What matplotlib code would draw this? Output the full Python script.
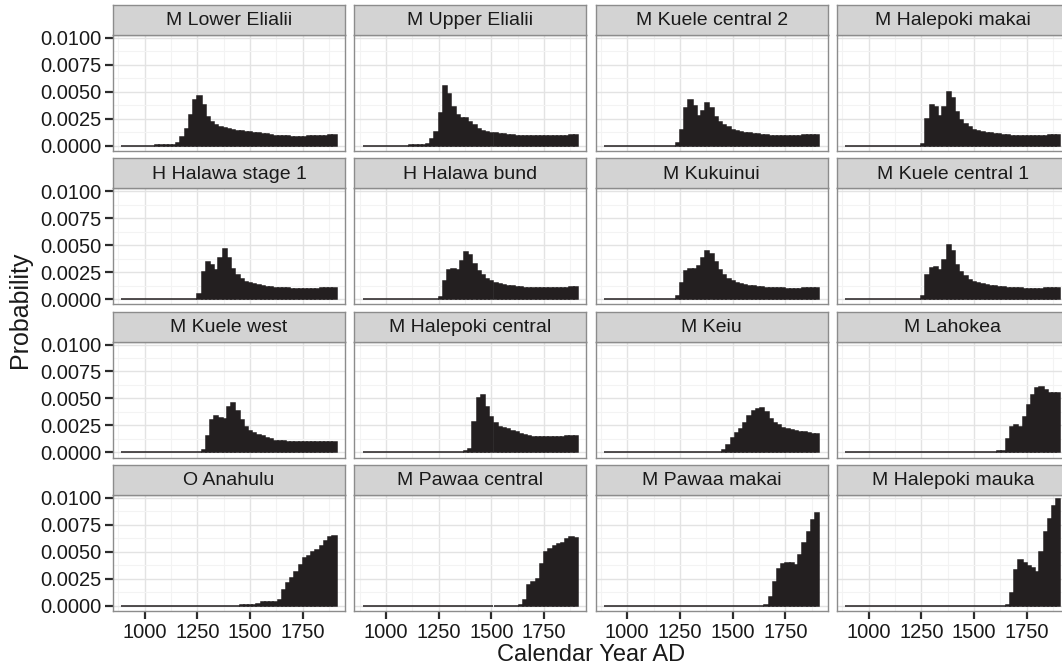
import numpy as np
import matplotlib
matplotlib.use("Agg")
import matplotlib.pyplot as plt

plt.rcParams['font.family'] = ['Liberation Sans', 'DejaVu Sans']

# calendar years (bin centres)
YEARS = list(range(900, 1901, 20))

lower_elialii = [0, 0, 0, 0, 0, 0, 0, 0, 0.00005, 0.00005, 0.00005, 0.00005, 0.0001, 0.0003, 0.0008, 0.0016,
                 0.0029, 0.0042, 0.0046, 0.0038, 0.0027, 0.0022, 0.0019, 0.0017, 0.00165, 0.0016, 0.0015, 0.0014,
                 0.00135, 0.0013, 0.00125, 0.0012, 0.00115, 0.0011, 0.00105, 0.001, 0.00095, 0.0009, 0.0009,
                 0.00088, 0.00085, 0.00085, 0.00085, 0.00085, 0.00087, 0.0009, 0.0009, 0.00092, 0.00095, 0.00097,
                 0.001]
upper_elialii = [0, 0, 0, 0, 0, 0, 0, 0, 0, 0, 0, 0.00005, 0.00005, 0.00005, 0.0001, 0.0002, 0.0006, 0.0013,
                 0.0030, 0.0055, 0.0048, 0.0036, 0.0029, 0.0026, 0.0026, 0.0022, 0.0019, 0.0016, 0.0014, 0.0013,
                 0.0012, 0.00115, 0.0011, 0.00105, 0.001, 0.001, 0.00095, 0.00095, 0.0009, 0.0009, 0.0009, 0.0009,
                 0.0009, 0.0009, 0.0009, 0.0009, 0.0009, 0.00095, 0.00095, 0.001, 0.001]
kuele_central_2 = [0, 0, 0, 0, 0, 0, 0, 0, 0, 0, 0, 0, 0, 0, 0, 0, 0, 0.0003, 0.0015, 0.0035, 0.0042, 0.0037,
                   0.0028, 0.0032, 0.004, 0.0035, 0.0027, 0.0022, 0.0019, 0.0017, 0.0015, 0.0014, 0.0013, 0.0012,
                   0.00115, 0.0011, 0.00105, 0.001, 0.001, 0.00095, 0.00095, 0.00095, 0.00095, 0.00095, 0.00095,
                   0.00095, 0.00095, 0.001, 0.001, 0.001, 0.001]
halepoki_makai = [0, 0, 0, 0, 0, 0, 0, 0, 0, 0, 0, 0, 0, 0, 0, 0, 0, 0, 0.0002, 0.0025, 0.0038, 0.0036, 0.0028,
                  0.0036, 0.005, 0.0044, 0.0031, 0.0024, 0.002, 0.0017, 0.0015, 0.0014, 0.0013, 0.0012, 0.00115,
                  0.0011, 0.00105, 0.001, 0.001, 0.00095, 0.00095, 0.0009, 0.0009, 0.0009, 0.0009, 0.0009, 0.00095,
                  0.00095, 0.001, 0.001, 0.001]
halawa_stage_1 = [0, 0, 0, 0, 0, 0, 0, 0, 0, 0, 0, 0, 0, 0, 0, 0, 0, 0, 0.0005, 0.0025, 0.0034, 0.0032, 0.0027,
                  0.0038, 0.0046, 0.0038, 0.0028, 0.0022, 0.0019, 0.0016, 0.0015, 0.0014, 0.0013, 0.0012, 0.00115,
                  0.0011, 0.00105, 0.001, 0.001, 0.001, 0.00095, 0.00095, 0.00095, 0.00095, 0.00095, 0.00095,
                  0.00095, 0.001, 0.001, 0.001, 0.001]
halawa_bund = [0, 0, 0, 0, 0, 0, 0, 0, 0, 0, 0, 0, 0, 0, 0, 0, 0, 0, 0.0002, 0.0017, 0.0027, 0.0028, 0.0027,
               0.0035, 0.0044, 0.0041, 0.0033, 0.0026, 0.0022, 0.0019, 0.0017, 0.0015, 0.0014, 0.0013, 0.0012,
               0.0012, 0.0011, 0.0011, 0.00105, 0.001, 0.001, 0.001, 0.001, 0.001, 0.001, 0.001, 0.001, 0.001,
               0.001, 0.0011, 0.0011]
kukuinui = [0, 0, 0, 0, 0, 0, 0, 0, 0, 0, 0, 0, 0, 0, 0, 0, 0, 0.0003, 0.0015, 0.0026, 0.0028, 0.0028, 0.0031,
            0.0038, 0.0045, 0.0042, 0.0034, 0.0027, 0.0022, 0.0019, 0.0017, 0.0015, 0.0014, 0.0013, 0.0012,
            0.0012, 0.0011, 0.0011, 0.00105, 0.001, 0.001, 0.001, 0.001, 0.00095, 0.00095, 0.00095, 0.00095,
            0.001, 0.001, 0.001, 0.001]
kuele_central_1 = [0, 0, 0, 0, 0, 0, 0, 0, 0, 0, 0, 0, 0, 0, 0, 0, 0, 0, 0.0003, 0.0022, 0.0029, 0.003, 0.0027,
                   0.0036, 0.005, 0.0045, 0.0032, 0.0025, 0.0021, 0.0018, 0.0016, 0.0015, 0.0014, 0.0013, 0.0012,
                   0.0012, 0.0011, 0.0011, 0.00105, 0.001, 0.001, 0.001, 0.00095, 0.00095, 0.00095, 0.00095,
                   0.00095, 0.001, 0.001, 0.001, 0.001]
kuele_west = [0, 0, 0, 0, 0, 0, 0, 0, 0, 0, 0, 0, 0, 0, 0, 0, 0, 0, 0, 0.0002, 0.0015, 0.003, 0.0034, 0.0032,
              0.0031, 0.0042, 0.0046, 0.0038, 0.003, 0.0024, 0.002, 0.0018, 0.0016, 0.0015, 0.0013, 0.0012,
              0.0011, 0.0011, 0.00105, 0.001, 0.001, 0.001, 0.001, 0.00095, 0.00095, 0.00095, 0.00095, 0.00095,
              0.001, 0.001, 0.001]
halepoki_central = [0, 0, 0, 0, 0, 0, 0, 0, 0, 0, 0, 0, 0, 0, 0, 0, 0, 0, 0, 0, 0, 0, 0, 0, 0.0001, 0.0003,
                    0.0028, 0.005, 0.0053, 0.0042, 0.0033, 0.0027, 0.0024, 0.0023, 0.0022, 0.002, 0.0019, 0.0017,
                    0.0016, 0.0015, 0.0014, 0.0014, 0.0014, 0.0014, 0.0014, 0.0014, 0.0014, 0.0014, 0.0015, 0.0015,
                    0.0015]
keiu = [0, 0, 0, 0, 0, 0, 0, 0, 0, 0, 0, 0, 0, 0, 0, 0, 0, 0, 0, 0, 0, 0, 0, 0, 0, 0, 0, 0.00005, 0.0002, 0.0007,
        0.0013, 0.0018, 0.0022, 0.0027, 0.0034, 0.0038, 0.004, 0.0041, 0.0037, 0.0031, 0.0027, 0.0025, 0.0023,
        0.0022, 0.0021, 0.002, 0.0019, 0.0019, 0.0018, 0.0017, 0.0017]
lahokea = [0, 0, 0, 0, 0, 0, 0, 0, 0, 0, 0, 0, 0, 0, 0, 0, 0, 0, 0, 0, 0, 0, 0, 0, 0, 0, 0, 0, 0, 0, 0, 0.00005,
           0.00005, 0.00005, 0.00005, 0.00005, 0.0001, 0.0001, 0.0012, 0.0024, 0.0025, 0.0024, 0.0033, 0.0044,
           0.0053, 0.006, 0.0061, 0.0058, 0.0055, 0.0055, 0.0055]
o_anahulu = [0, 0, 0, 0, 0, 0, 0, 0, 0, 0, 0, 0, 0, 0, 0, 0, 0, 0, 0, 0, 0, 0, 0, 0, 0, 0, 0, 0, 0.00005, 0.00005,
             0.0001, 0.0001, 0.0002, 0.0003, 0.0003, 0.0003, 0.0003, 0.0005, 0.0015, 0.0021, 0.0026, 0.0031,
             0.0038, 0.0044, 0.0046, 0.005, 0.0052, 0.0055, 0.006, 0.0064, 0.0065]
pawaa_central = [0, 0, 0, 0, 0, 0, 0, 0, 0, 0, 0, 0, 0, 0, 0, 0, 0, 0, 0, 0, 0, 0, 0, 0, 0, 0, 0, 0, 0, 0, 0, 0,
                 0, 0, 0, 0, 0, 0.0001, 0.0005, 0.0019, 0.0022, 0.0025, 0.0039, 0.005, 0.0053, 0.0055, 0.0057,
                 0.0058, 0.0062, 0.0064, 0.0063]
pawaa_makai = [0, 0, 0, 0, 0, 0, 0, 0, 0, 0, 0, 0, 0, 0, 0, 0, 0, 0, 0, 0, 0, 0, 0, 0, 0, 0, 0, 0, 0, 0, 0, 0, 0,
               0, 0, 0, 0, 0, 0.0001, 0.0008, 0.0022, 0.0034, 0.0039, 0.004, 0.004, 0.0038, 0.0047, 0.0058,
               0.0068, 0.0079, 0.0086]
halepoki_mauka = [0, 0, 0, 0, 0, 0, 0, 0, 0, 0, 0, 0, 0, 0, 0, 0, 0, 0, 0, 0, 0, 0, 0, 0, 0, 0, 0, 0, 0, 0, 0, 0,
                  0, 0, 0, 0, 0, 0, 0.0001, 0.0012, 0.0033, 0.0042, 0.004, 0.0037, 0.0035, 0.0031, 0.005, 0.0068,
                  0.008, 0.0092, 0.0099]

sites = ["M Lower Elialii", "M Upper Elialii", "M Kuele central 2", "M Halepoki makai",
         "H Halawa stage 1", "H Halawa bund", "M Kukuinui", "M Kuele central 1",
         "M Kuele west", "M Halepoki central", "M Keiu", "M Lahokea",
         "O Anahulu", "M Pawaa central", "M Pawaa makai", "M Halepoki mauka"]
series = [lower_elialii, upper_elialii, kuele_central_2, halepoki_makai,
          halawa_stage_1, halawa_bund, kukuinui, kuele_central_1,
          kuele_west, halepoki_central, keiu, lahokea,
          o_anahulu, pawaa_central, pawaa_makai, halepoki_mauka]

x_major = [1000, 1250, 1500, 1750]
x_minor = [875, 1125, 1375, 1625, 1875]
y_major = [0.0, 0.0025, 0.005, 0.0075, 0.01]
y_minor = [0.00125, 0.00375, 0.00625, 0.00875]

W, H = 1062, 672
fig = plt.figure(figsize=(W / 100, H / 100), dpi=100)
fig.patch.set_facecolor('white')

bar_col = '#231F20'
border = '#8C8C8C'
txt = '#1A1A1A'

for i, (name, vals) in enumerate(zip(sites, series)):
    r, c = divmod(i, 4)
    left = 113 + c * 241.3
    strip_top = 5 + r * 153.3
    panel_top = strip_top + 30
    pw, ph = 232, 116

    ax = fig.add_axes([left / W, 1 - (panel_top + ph) / H, pw / W, ph / H])
    ax.bar(YEARS, vals, width=20, color=bar_col, edgecolor=bar_col, linewidth=1.1)
    ax.set_xlim(850, 1950)
    ax.set_ylim(-0.00048, 0.01027)
    ax.set_xticks(x_major)
    ax.set_xticks(x_minor, minor=True)
    ax.set_yticks(y_major)
    ax.set_yticks(y_minor, minor=True)
    ax.set_axisbelow(True)
    ax.grid(which='major', color='#E3E3E3', linewidth=1.0)
    ax.grid(which='minor', color='#F3F3F3', linewidth=0.8)
    for s in ax.spines.values():
        s.set_color(border)
        s.set_linewidth(1.0)
    ax.tick_params(which='minor', length=0)
    ax.tick_params(which='major', length=6, width=1.6, color='#2B2B2B',
                   labelsize=14.5, labelcolor=txt, pad=2.5)
    ax.set_yticklabels(['%.4f' % v for v in y_major])
    ax.set_xticklabels([str(v) for v in x_major])
    if c != 0:
        ax.tick_params(axis='y', length=0, labelleft=False)
    if r != 3:
        ax.tick_params(axis='x', length=0, labelbottom=False)

    sx = fig.add_axes([left / W, 1 - (strip_top + 30) / H, pw / W, 30 / H])
    sx.set_facecolor('#D3D3D3')
    sx.set_xticks([])
    sx.set_yticks([])
    for s in sx.spines.values():
        s.set_color(border)
        s.set_linewidth(1.0)
    sx.text(0.5, 0.47, name, ha='center', va='center', fontsize=14, color=txt,
            transform=sx.transAxes)

fig.text(591 / W, 1 - 655 / H, 'Calendar Year AD', ha='center', va='center',
         fontsize=17, color=txt)
fig.text(20 / W, 1 - 310 / H, 'Probability', ha='center', va='center',
         rotation=90, fontsize=18, color=txt)

fig.savefig('out.png', dpi=100, facecolor='white')
